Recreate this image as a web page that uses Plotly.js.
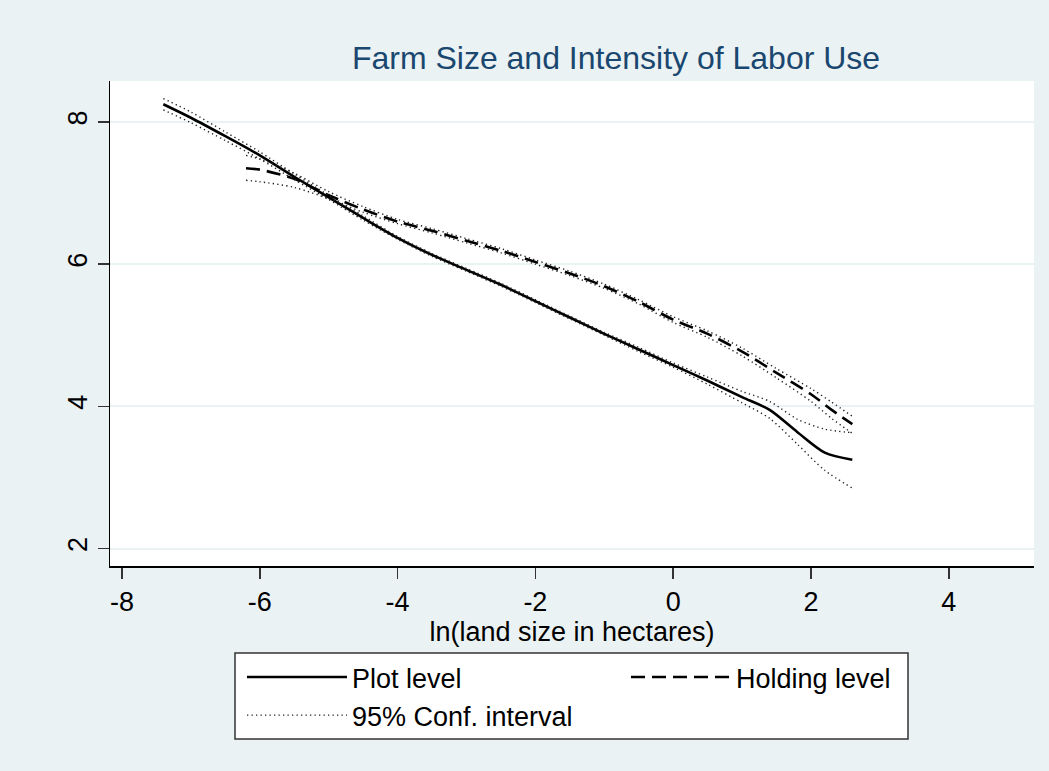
<!DOCTYPE html>
<html>
<head>
<meta charset="utf-8">
<script src="https://cdn.plot.ly/plotly-3.0.1.min.js"></script>
<style>html,body{margin:0;padding:0;background:#EAF2F3;}#chart{width:1049px;height:771px;}</style>
</head>
<body>
<div id="chart"></div>
<script>
// ---- Data ----
var plotX = [-7.4, -7.0, -6.5, -6.0, -5.5, -5.0, -4.5, -4.0, -3.5, -3.0, -2.5, -2.0, -1.5, -1.0, -0.5, 0.0, 0.5, 1.0, 1.4, 1.8, 2.2, 2.6];
var plotLevel = [8.25, 8.06, 7.80, 7.53, 7.23, 6.94, 6.65, 6.37, 6.13, 5.92, 5.71, 5.48, 5.25, 5.02, 4.80, 4.58, 4.36, 4.13, 3.95, 3.64, 3.35, 3.25];
var plotUpper = [8.33, 8.14, 7.86, 7.58, 7.27, 6.97, 6.68, 6.39, 6.15, 5.94, 5.73, 5.50, 5.27, 5.04, 4.83, 4.61, 4.41, 4.21, 4.07, 3.82, 3.68, 3.63];
var plotLower = [8.17, 7.99, 7.74, 7.48, 7.19, 6.91, 6.62, 6.35, 6.11, 5.90, 5.69, 5.46, 5.23, 5.00, 4.77, 4.55, 4.31, 4.05, 3.83, 3.47, 3.10, 2.85];

var holdX = [-6.2, -6.0, -5.5, -5.0, -4.5, -4.0, -3.5, -3.0, -2.5, -2.0, -1.5, -1.0, -0.5, 0.0, 0.5, 1.0, 1.5, 2.0, 2.3, 2.6];
var holdLevel = [7.35, 7.33, 7.20, 6.97, 6.77, 6.60, 6.47, 6.33, 6.19, 6.03, 5.87, 5.69, 5.47, 5.22, 5.02, 4.77, 4.47, 4.17, 3.95, 3.75];
var holdUpper = [7.53, 7.48, 7.28, 7.02, 6.81, 6.63, 6.50, 6.36, 6.22, 6.06, 5.90, 5.72, 5.50, 5.26, 5.06, 4.82, 4.53, 4.25, 4.06, 3.86];
var holdLower = [7.18, 7.16, 7.08, 6.92, 6.73, 6.57, 6.44, 6.30, 6.16, 6.00, 5.84, 5.66, 5.44, 5.18, 4.97, 4.71, 4.40, 4.07, 3.83, 3.62];

var xTicks = [-8, -6, -4, -2, 0, 2, 4];
var yTicks = [2, 4, 6, 8];

var titleText = 'Farm Size and Intensity of Labor Use';
var xTitle = 'ln(land size in hectares)';
var names = ['Plot level', 'Holding level', '95% Conf. interval'];

// ---- Styles ----
var FONT = 'Liberation Sans, Arial, Helvetica, sans-serif';
var solid = {color: '#000000', width: 2.6};
var dashed = {color: '#000000', width: 2.6, dash: '14px,7px'};
var dotted = {color: '#222222', width: 1.4, dash: '1.3px,3.2px'};

var traces = [
  {x: plotX, y: plotLevel, type: 'scatter', mode: 'lines', name: names[0], line: solid},
  {x: holdX, y: holdLevel, type: 'scatter', mode: 'lines', name: names[1], line: dashed},
  {x: plotX, y: plotUpper, type: 'scatter', mode: 'lines', name: names[2], line: dotted, legendgroup: 'ci', showlegend: true},
  {x: plotX, y: plotLower, type: 'scatter', mode: 'lines', name: names[2], line: dotted, legendgroup: 'ci', showlegend: false},
  {x: holdX, y: holdUpper, type: 'scatter', mode: 'lines', name: names[2], line: dotted, legendgroup: 'ci', showlegend: false},
  {x: holdX, y: holdLower, type: 'scatter', mode: 'lines', name: names[2], line: dotted, legendgroup: 'ci', showlegend: false}
];
traces.forEach(function(t){ t.line = Object.assign({shape: 'spline', smoothing: 0.8}, t.line); t.hoverinfo = 'skip'; });

var PL = 110, PR = 1034, PT = 81, PB = 566;
var PW = PR - PL, PH = PB - PT;
function px2x(p){ return (p - PL) / PW; }
function py2y(p){ return (PB - p) / PH; }

var layout = {
  width: 1049, height: 771,
  paper_bgcolor: '#EAF2F3', plot_bgcolor: '#FFFFFF',
  margin: {l: PL, r: 1049 - PR, t: PT, b: 771 - PB, pad: 0, autoexpand: false},
  font: {family: FONT, color: '#000000', size: 27},
  title: {text: titleText, font: {family: FONT, size: 32, color: '#1A476F'},
          x: 616/1049, xref: 'container', xanchor: 'center',
          y: 1 - 58/771, yref: 'container', yanchor: 'middle'},
  xaxis: {
    range: [-8.174, 5.237], tickvals: xTicks, ticktext: xTicks.map(String),
    showgrid: false, zeroline: false, automargin: false,
    showline: true, linecolor: '#000000', linewidth: 1.5,
    ticks: 'outside', ticklen: 11, tickwidth: 1.5, tickcolor: '#333333',
    tickfont: {family: FONT, size: 27, color: '#000000'},
    title: {text: xTitle, font: {family: FONT, size: 27, color: '#000000'}, standoff: 0}
  },
  yaxis: {
    range: [1.754, 8.577], tickvals: yTicks, ticktext: yTicks.map(String),
    showgrid: true, gridcolor: '#EAF2F3', gridwidth: 2, zeroline: false, automargin: false,
    showline: true, linecolor: '#000000', linewidth: 1.5,
    ticks: 'outside', ticklen: 11, tickwidth: 1.5, tickcolor: '#333333',
    tickangle: -90, ticklabelstandoff: 0,
    tickfont: {family: FONT, size: 27, color: '#000000'}
  },
  showlegend: true,
  legend: {
    orientation: 'h', x: px2x(242), xanchor: 'left',
    y: py2y(653), yanchor: 'top',
    bgcolor: 'rgba(0,0,0,0)', borderwidth: 0,
    entrywidth: 269, entrywidthmode: 'pixels',
    itemwidth: 100, traceorder: 'normal',
    font: {family: FONT, size: 27, color: '#000000'}
  },
  shapes: [
    {type: 'rect', xref: 'paper', yref: 'paper', layer: 'below',
     x0: px2x(235), x1: px2x(908), y0: py2y(653), y1: py2y(739),
     line: {width: 0}, fillcolor: '#FFFFFF'},
    {type: 'rect', xref: 'paper', yref: 'paper', layer: 'above',
     x0: px2x(235), x1: px2x(908), y0: py2y(653), y1: py2y(739),
     line: {color: '#333333', width: 1.5}, fillcolor: 'rgba(0,0,0,0)'}
  ]
};

Plotly.newPlot('chart', traces, layout, {displayModeBar: false, staticPlot: true});
</script>
</body>
</html>
